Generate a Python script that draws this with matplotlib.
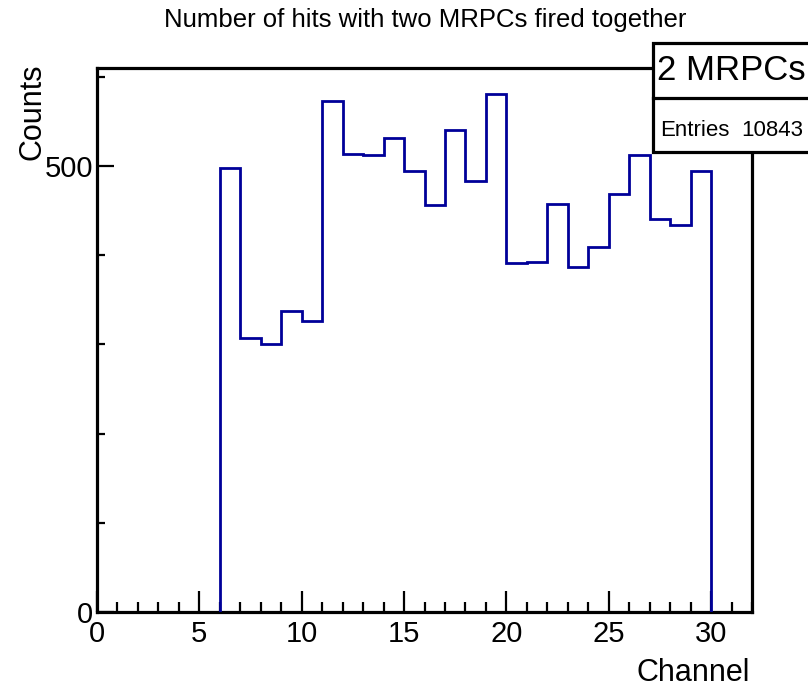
import matplotlib
matplotlib.use("Agg")
import matplotlib.pyplot as plt
from matplotlib.patches import Rectangle
from matplotlib.ticker import MultipleLocator

# Channel histogram: one bin per channel, bins 6..29
bin_edges = list(range(6, 31))
counts = [498, 307, 300, 337, 326, 573, 514, 512, 531, 495, 456, 541,
          483, 581, 391, 393, 458, 387, 409, 469, 513, 441, 434, 494]
entries = 10843

title = "Number of hits with two MRPCs fired together"
hist_name = "2 MRPCs"
x_label = "Channel"
y_label = "Counts"

plt.rcParams['font.family'] = ['Liberation Sans', 'DejaVu Sans']

W, H = 808, 688
fig = plt.figure(figsize=(W / 100, H / 100), dpi=100)
ax = fig.add_axes([97 / W, 1 - 612 / H, (752 - 97) / W, (612 - 68) / H])

hist_color = '#000099'
ax.stairs(counts, bin_edges, baseline=0, color=hist_color, linewidth=2.0,
          zorder=3)

ax.set_xlim(0, 32)
ax.set_ylim(0, 1.05 * max(counts))

for s in ax.spines.values():
    s.set_linewidth(2.3)

ax.xaxis.set_major_locator(MultipleLocator(5))
ax.xaxis.set_minor_locator(MultipleLocator(1))
ax.yaxis.set_major_locator(MultipleLocator(500))
ax.yaxis.set_minor_locator(MultipleLocator(100))

ax.tick_params(axis='x', which='major', direction='in', length=15, width=1.6,
               labelsize=21, pad=6)
ax.tick_params(axis='x', which='minor', direction='in', length=7.5, width=1.6)
ax.tick_params(axis='y', which='major', direction='in', length=12.5, width=1.6,
               labelsize=21, pad=3)
ax.tick_params(axis='y', which='minor', direction='in', length=6, width=1.6)

fig.text(425 / W, 1 - 20 / H, title, ha='center', va='center', fontsize=18.5)
fig.text(750 / W, 1 - 681 / H, x_label, ha='right', va='baseline', fontsize=22)
fig.text(33 / W, 1 - 63 / H, y_label, ha='center', va='top', rotation=90,
         fontsize=22)

# Statistics box in the upper right corner
box_l, box_t, box_m, box_b = 653, 43, 98, 152
fig.patches.append(Rectangle((box_l / W, 1 - box_b / H), (W + 20 - box_l) / W,
                             (box_b - box_t) / H, transform=fig.transFigure,
                             facecolor='white', edgecolor='black',
                             linewidth=2.3, zorder=5, clip_on=False))
fig.lines.append(plt.Line2D([box_l / W, 1.02], [1 - box_m / H, 1 - box_m / H],
                            transform=fig.transFigure, color='black',
                            linewidth=2.3, zorder=6))
fig.text(657 / W, 1 - 71 / H, hist_name, ha='left', va='center', fontsize=25,
         zorder=7)
fig.text(660 / W, 1 - 131 / H, "Entries", ha='left', va='center', fontsize=16,
         zorder=7)
fig.text(803 / W, 1 - 131 / H, f"{entries}", ha='right', va='center',
         fontsize=16, zorder=7)

fig.savefig("out.png", dpi=100)
